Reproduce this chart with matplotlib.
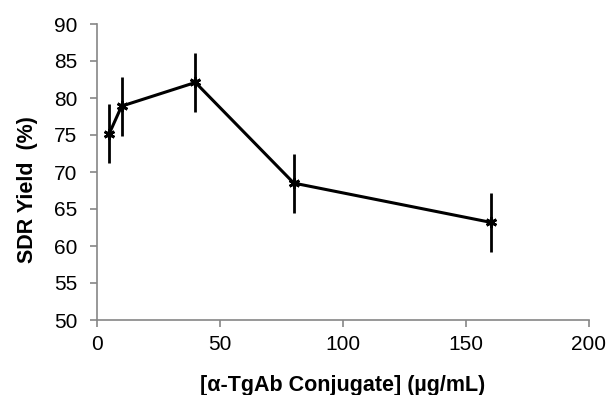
import matplotlib
matplotlib.use("Agg")
import matplotlib.pyplot as plt

conc = [5, 10, 40, 80, 160]
yield_pct = [75.2, 78.9, 82.1, 68.5, 63.2]
err = [4.0, 4.0, 4.0, 4.0, 4.0]
xticks = [0, 50, 100, 150, 200]
yticks = [50, 55, 60, 65, 70, 75, 80, 85, 90]

plt.rcParams['font.family'] = ['Liberation Sans', 'DejaVu Sans']
fig = plt.figure(figsize=(6.08, 3.95), dpi=100)
ax = fig.add_axes([97/608, 1-320/395, (589-97)/608, (320-24)/395])

ax.errorbar(conc, yield_pct, yerr=err, color='black', lw=2.2, elinewidth=2,
            capsize=0, marker=(6, 2, 0), markersize=8, markeredgewidth=2)

ax.set_xlim(0, 200)
ax.set_ylim(50, 90)
ax.set_xticks(xticks)
ax.set_yticks(yticks)
for s in ['top', 'right']:
    ax.spines[s].set_visible(False)
for s in ['left', 'bottom']:
    ax.spines[s].set_color('#868686')
    ax.spines[s].set_linewidth(1.2)
ax.tick_params(direction='out', length=5, color='#868686', labelsize=15, width=1.2)
ax.tick_params(axis='x', pad=6)
ax.tick_params(axis='y', pad=9)
ax.set_xlabel('[α-TgAb Conjugate] (µg/mL)', fontsize=15.5, fontweight='bold', labelpad=15)
ax.set_ylabel('SDR Yield  (%)', fontsize=15.5, fontweight='bold', labelpad=13)
ax.yaxis.set_label_coords(-0.12, 0.44)

fig.savefig('out.png', dpi=100)
